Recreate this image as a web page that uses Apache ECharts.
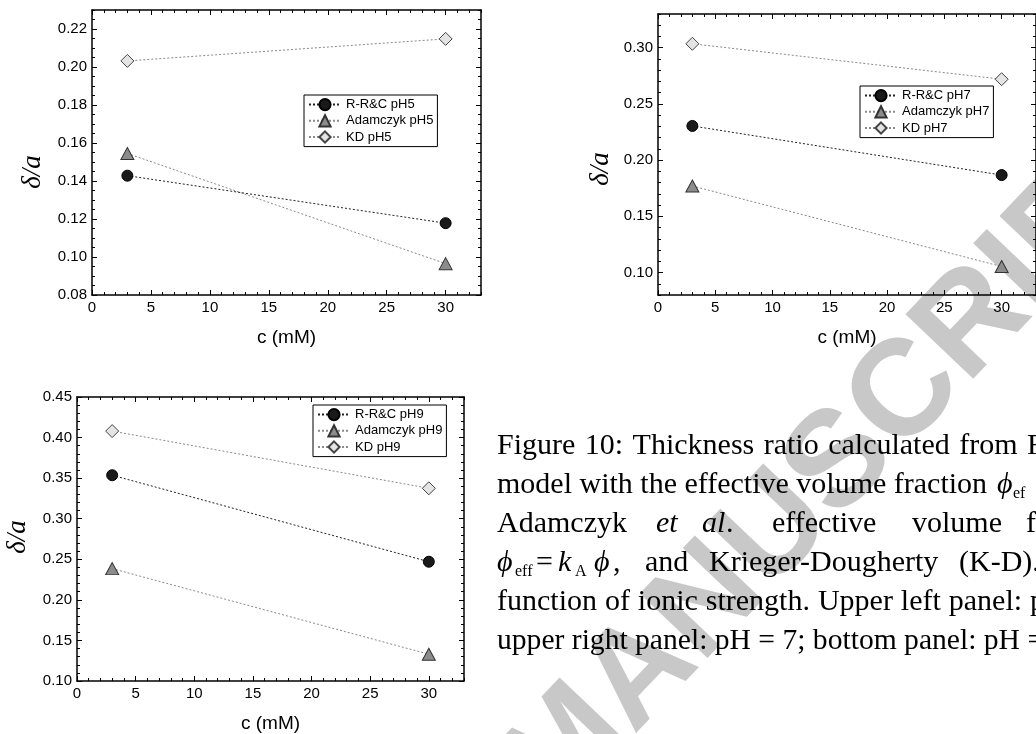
<!DOCTYPE html>
<html>
<head>
<meta charset="utf-8">
<script src="https://cdn.jsdelivr.net/npm/echarts@6/dist/echarts.min.js"></script>
<style>
html,body{margin:0;padding:0;background:#fff;}
#chart{width:1036px;height:734px;}
</style>
</head>
<body>
<div id="chart"></div>
<script>
// ---- data ----
const concentrations = [3, 30];               // c (mM)
const xTicks = [0, 5, 10, 15, 20, 25, 30];

const seriesNamesPH5 = ['R-R&C pH5', 'Adamczyk pH5', 'KD pH5'];
const rrcPH5  = [0.1428, 0.1178];
const adamPH5 = [0.1545, 0.0965];
const kdPH5   = [0.2032, 0.2148];
const yTicksPH5 = [0.08, 0.10, 0.12, 0.14, 0.16, 0.18, 0.20, 0.22];

const seriesNamesPH7 = ['R-R&C pH7', 'Adamczyk pH7', 'KD pH7'];
const rrcPH7  = [0.2304, 0.1867];
const adamPH7 = [0.1770, 0.1053];
const kdPH7   = [0.3035, 0.2720];
const yTicksPH7 = [0.10, 0.15, 0.20, 0.25, 0.30];

const seriesNamesPH9 = ['R-R&C pH9', 'Adamczyk pH9', 'KD pH9'];
const rrcPH9  = [0.3536, 0.2470];
const adamPH9 = [0.2385, 0.1330];
const kdPH9   = [0.4080, 0.3375];
const yTicksPH9 = [0.10, 0.15, 0.20, 0.25, 0.30, 0.35, 0.40, 0.45];

const captionLine1 = 'Figure 10: Thickness ratio calculated from F';
const captionLine2 = 'model with the effective volume fraction';
const captionLine5 = 'function of ionic strength. Upper left panel: p';
const captionLine6 = 'upper right panel: pH = 7; bottom panel: pH =';

// ---- layout / styles ----
const SANS = '"Liberation Sans", Arial, sans-serif';
const SERIF = '"Liberation Serif", "Times New Roman", "DejaVu Serif", serif';
const panels = [
  {grid:{left:92, top:10, width:389, height:285}, yMin:0.08, yMax:0.23, yMinor:0.005, yTicks:yTicksPH5,
   names:seriesNamesPH5, vals:[rrcPH5, adamPH5, kdPH5], legend:{left:304, top:95}},
  {grid:{left:658, top:14, width:386, height:281}, yMin:0.08, yMax:0.33, yMinor:0.01, yTicks:yTicksPH7,
   names:seriesNamesPH7, vals:[rrcPH7, adamPH7, kdPH7], legend:{left:860, top:86}},
  {grid:{left:77, top:397, width:387, height:284}, yMin:0.10, yMax:0.45, yMinor:0.01, yTicks:yTicksPH9,
   names:seriesNamesPH9, vals:[rrcPH9, adamPH9, kdPH9], legend:{left:313, top:405}}
];

const seriesStyles = [
  {symbol:'circle',   size:11,      fill:'#1a1a1a', border:'#000', line:'#222'},
  {symbol:'triangle', size:[13,12], fill:'#8c8c8c', border:'#333', line:'#8a8a8a'},
  {symbol:'diamond',  size:[13,13], fill:'#e4e4e4', border:'#444', line:'#8a8a8a'}
];

const tickStyle = {color:'#000', width:1};
const lineStyleAxis = {color:'#000', width:1.5};

const grids = [], xAxes = [], yAxes = [], series = [], legends = [];
panels.forEach((p, g) => {
  grids.push(Object.assign({containLabel:false}, p.grid));
  const xBase = {gridIndex:g, type:'value', min:0, max:33, splitLine:{show:false}};
  xAxes.push(Object.assign({}, xBase, {
    position:'bottom',
    axisLine:{show:true, onZero:false, lineStyle:lineStyleAxis},
    axisTick:{show:true, inside:true, length:5, customValues:xTicks, lineStyle:tickStyle},
    axisLabel:{show:true, customValues:xTicks, margin:5, fontSize:15, color:'#000', fontFamily:SANS},
    name:'c (mM)', nameLocation:'middle', nameGap:33,
    nameTextStyle:{fontSize:19, color:'#000', fontFamily:SANS}
  }));
  xAxes.push(Object.assign({}, xBase, {
    position:'bottom', interval:1,
    axisLine:{show:false, onZero:false},
    axisTick:{show:true, inside:true, length:3, lineStyle:tickStyle},
    axisLabel:{show:false}
  }));
  xAxes.push(Object.assign({}, xBase, {
    position:'top',
    axisLine:{show:true, onZero:false, lineStyle:lineStyleAxis},
    axisTick:{show:true, inside:true, length:5, customValues:xTicks, lineStyle:tickStyle},
    axisLabel:{show:false}
  }));
  xAxes.push(Object.assign({}, xBase, {
    position:'top', interval:1,
    axisLine:{show:false, onZero:false},
    axisTick:{show:true, inside:true, length:3, lineStyle:tickStyle},
    axisLabel:{show:false}
  }));
  const yBase = {gridIndex:g, type:'value', min:p.yMin, max:p.yMax, splitLine:{show:false}};
  yAxes.push(Object.assign({}, yBase, {
    position:'left',
    axisLine:{show:true, onZero:false, lineStyle:lineStyleAxis},
    axisTick:{show:true, inside:true, length:5, customValues:p.yTicks, lineStyle:tickStyle},
    axisLabel:{show:true, customValues:p.yTicks, margin:5, fontSize:15, color:'#000', fontFamily:SANS,
               formatter:v => Number(v).toFixed(2)}
  }));
  yAxes.push(Object.assign({}, yBase, {
    position:'left', interval:p.yMinor,
    axisLine:{show:false, onZero:false},
    axisTick:{show:true, inside:true, length:3, lineStyle:tickStyle},
    axisLabel:{show:false}
  }));
  yAxes.push(Object.assign({}, yBase, {
    position:'right',
    axisLine:{show:true, onZero:false, lineStyle:lineStyleAxis},
    axisTick:{show:true, inside:true, length:5, customValues:p.yTicks, lineStyle:tickStyle},
    axisLabel:{show:false}
  }));
  yAxes.push(Object.assign({}, yBase, {
    position:'right', interval:p.yMinor,
    axisLine:{show:false, onZero:false},
    axisTick:{show:true, inside:true, length:3, lineStyle:tickStyle},
    axisLabel:{show:false}
  }));

  p.names.forEach((name, k) => {
    const st = seriesStyles[k];
    series.push({
      name:name, type:'line', xAxisIndex:g*4, yAxisIndex:g*4,
      data:concentrations.map((c, i) => [c, p.vals[k][i]]),
      symbol:st.symbol, symbolSize:st.size, showSymbol:true,
      itemStyle:{color:st.fill, borderColor:st.border, borderWidth:1},
      lineStyle:{color:st.line, width:1, type:[2,2]},
      z: 5 - k
    });
  });

  legends.push({
    data:p.names, orient:'vertical', left:p.legend.left, top:p.legend.top,
    padding:[3,4,3,4], itemWidth:32, itemHeight:14, itemGap:3,
    borderColor:'#000', borderWidth:1, backgroundColor:'#fff',
    textStyle:{fontSize:13, color:'#000', fontFamily:SANS},
    selectedMode:false
  });
});

// ---- texts drawn with graphic ----
const graphics = [];
graphics.push({type:'text', x:570, y:748, rotation:46.4*Math.PI/180, z:-10, silent:true,
  style:{text:'ACCEPTED MANUSCRIPT', font:'bold 136px ' + SANS, fill:'#c8c8c8',
         textAlign:'center', textVerticalAlign:'middle'}});
[[33,172],[601,169],[18,537]].forEach(pos => {
  graphics.push({type:'text', x:pos[0], y:pos[1], rotation:Math.PI/2, z:10,
    style:{text:'δ/a', font:'italic 27px ' + SERIF, fill:'#000', textAlign:'center', textVerticalAlign:'middle'}});
});

const capFont = '30px ' + SERIF;
const capItal = 'italic 30px ' + SERIF;
const subFont = '16px ' + SERIF;
const capMid = [446, 485, 524, 563, 602, 641];
const measureCtx = document.createElement('canvas').getContext('2d');
function txt(x, y, s, font){
  graphics.push({type:'text', x:x, y:y, z:10,
    style:{text:s, font:font, fill:'#000', textAlign:'left', textVerticalAlign:'middle'}});
}
function justify(line, x0, xLast, y, font){
  const words = line.split(' ');
  measureCtx.font = font;
  let total = 0;
  for (let i = 0; i < words.length - 1; i++) total += measureCtx.measureText(words[i]).width;
  const gap = (xLast - x0 - total) / (words.length - 1);
  let x = x0;
  words.forEach((w) => {
    txt(x, y, w, font);
    x += measureCtx.measureText(w).width + gap;
  });
}
justify(captionLine1, 497, 1027, capMid[0], capFont);
txt(497, capMid[1], captionLine2, capFont);
txt(997, capMid[1], 'ϕ', capItal);
txt(1013, capMid[1] + 9, 'ef', subFont);
txt(497, capMid[2], 'Adamczyk', capFont);
txt(656, capMid[2], 'et', capItal);
txt(702, capMid[2], 'al', capItal);
txt(726, capMid[2], '.', capFont);
txt(772, capMid[2], 'effective', capFont);
txt(912, capMid[2], 'volume', capFont);
txt(1026, capMid[2], 'f', capFont);
txt(497, capMid[3], 'ϕ', capItal);
txt(515, capMid[3] + 9, 'eff', subFont);
txt(536, capMid[3], '=', capFont);
txt(558, capMid[3], 'k', capItal);
txt(575, capMid[3] + 9, 'A', subFont);
txt(594, capMid[3], 'ϕ', capItal);
txt(613, capMid[3], ',', capFont);
txt(645, capMid[3], 'and', capFont);
txt(709, capMid[3], 'Krieger-Dougherty', capFont);
txt(959, capMid[3], '(K-D).', capFont);
justify(captionLine5, 497, 1030, capMid[4], capFont);
txt(497, capMid[5], captionLine6, '29.6px ' + SERIF);

const chart = echarts.init(document.getElementById('chart'), null, {renderer:'canvas'});
chart.setOption({
  backgroundColor:'#fff',
  animation:false,
  grid:grids, xAxis:xAxes, yAxis:yAxes, series:series, legend:legends,
  graphic:{elements:graphics}
});
</script>
</body>
</html>
